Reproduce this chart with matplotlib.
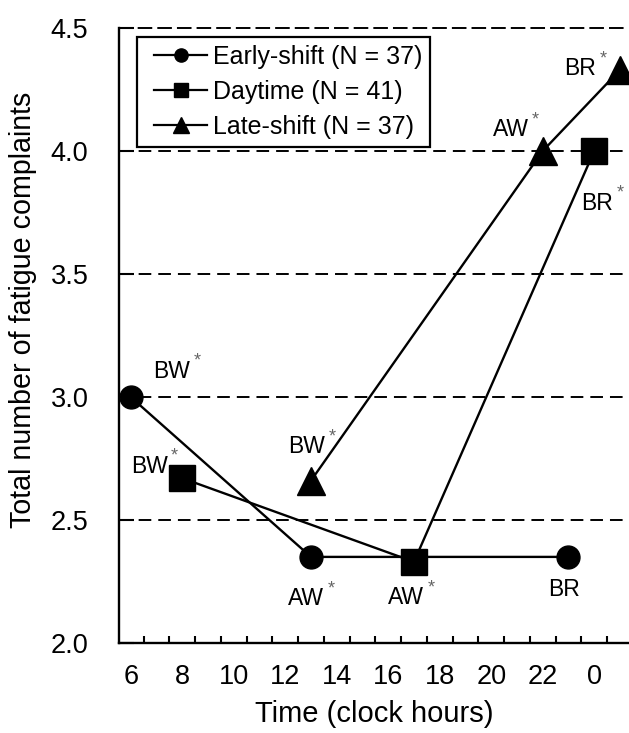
import matplotlib
matplotlib.use("Agg")
import matplotlib.pyplot as plt
from matplotlib.lines import Line2D
from matplotlib.legend_handler import HandlerLine2D

plt.rcParams['font.family'] = ['Liberation Sans', 'DejaVu Sans']

# data: clock hour (24 = 0, 25 = 1 next day) and mean complaints
early_hours = [6, 13, 23]
early_vals = [3.0, 2.35, 2.35]
early_tags = ["BW", "AW", "BR"]
early_sig = [True, True, False]

day_hours = [8, 17, 24]
day_vals = [2.67, 2.33, 4.0]
day_tags = ["BW", "AW", "BR"]
day_sig = [True, True, True]

late_hours = [13, 22, 25]
late_vals = [2.66, 4.0, 4.33]
late_tags = ["BW", "AW", "BR"]
late_sig = [True, True, True]

x_ticks = [6, 8, 10, 12, 14, 16, 18, 20, 22, 24]
x_ticklabels = ["6", "8", "10", "12", "14", "16", "18", "20", "22", "0"]
y_ticks = [2.0, 2.5, 3.0, 3.5, 4.0, 4.5]

# label offsets in pixels (dx, dy up) from each marker
early_off = [(41, 26), (-5, -42), (-4, -33)]
day_off = [(-33, 12), (-8, -36), (3, -52)]
late_off = [(-4, 34), (-32, 21), (-40, 1)]

px = 0.72  # points per pixel at dpi 100
dash = (0, (6.5, 3.6))

fig = plt.figure(figsize=(6.29, 7.33), dpi=100)
ax = fig.add_axes([119 / 629, 1 - 643 / 733, 1 - 119 / 629, 615 / 733])

for y in y_ticks[1:-1]:
    ax.axhline(y, color='k', lw=1.4, ls=dash, zorder=1)

series = [
    (early_hours, early_vals, 'o', 16.5, early_tags, early_sig, early_off),
    (day_hours, day_vals, 's', 18.5, day_tags, day_sig, day_off),
    (late_hours, late_vals, '^', 20, late_tags, late_sig, late_off),
]
for hrs, vals, mk, ms, tags, sig, offs in series:
    ax.plot(hrs, vals, color='k', lw=1.7, marker=mk, markersize=ms,
            markerfacecolor='k', markeredgecolor='k', zorder=3, clip_on=False)
    for h, v, t, s, (dx, dy) in zip(hrs, vals, tags, sig, offs):
        txt = ax.annotate(t, xy=(h, v), xytext=(dx * px, dy * px),
                          textcoords='offset points', ha='center', va='center',
                          fontsize=16.5)
        if s:
            ax.annotate('*', xy=(1, 1), xycoords=txt, xytext=(5, -1),
                        textcoords='offset points', ha='center', va='center',
                        fontsize=13, color='0.4')

ax.set_xlim(5.546, 25.35)
ax.set_ylim(2.0, 4.5)
ax.set_xticks(x_ticks)
ax.set_xticklabels(x_ticklabels)
ax.set_xticks([h + 0.5 for h in range(6, 25)], minor=True)
ax.set_yticks(y_ticks)
ax.set_yticklabels([f"{v:.1f}" for v in y_ticks])

ax.tick_params(axis='x', which='major', length=0, pad=15, labelsize=19.5)
ax.tick_params(axis='x', which='minor', direction='in', length=5, width=1.5)
ax.tick_params(axis='y', direction='in', length=11, width=1.5, pad=22,
               labelsize=19.5)

ax.spines['right'].set_visible(False)
ax.spines['top'].set_linestyle(dash)
ax.spines['top'].set_linewidth(1.4)
ax.spines['left'].set_linewidth(1.7)
ax.spines['bottom'].set_linewidth(1.7)

ax.set_xlabel("Time (clock hours)", fontsize=21, labelpad=7)
ax.set_ylabel("Total number of fatigue complaints", fontsize=20.6)
ax.yaxis.set_label_coords(-0.161, 0.541)

handles = [
    Line2D([], [], color='k', lw=1.6, marker='o', markersize=9.5),
    Line2D([], [], color='k', lw=1.6, marker='s', markersize=9.5),
    Line2D([], [], color='k', lw=1.6, marker='^', markersize=11),
]
labels = ["Early-shift (N = 37)", "Daytime (N = 41)", "Late-shift (N = 37)"]
leg = ax.legend(handles, labels, loc='upper left', bbox_to_anchor=(0.035, 0.985),
                borderaxespad=0, fontsize=18, handlelength=2.5,
                handletextpad=0.24, labelspacing=0.45, borderpad=0.3,
                fancybox=False, framealpha=1, edgecolor='k',
                handler_map={Line2D: HandlerLine2D(xpad=0.4)})
leg.get_frame().set_linewidth(1.6)

fig.savefig("out.png", dpi=100)
